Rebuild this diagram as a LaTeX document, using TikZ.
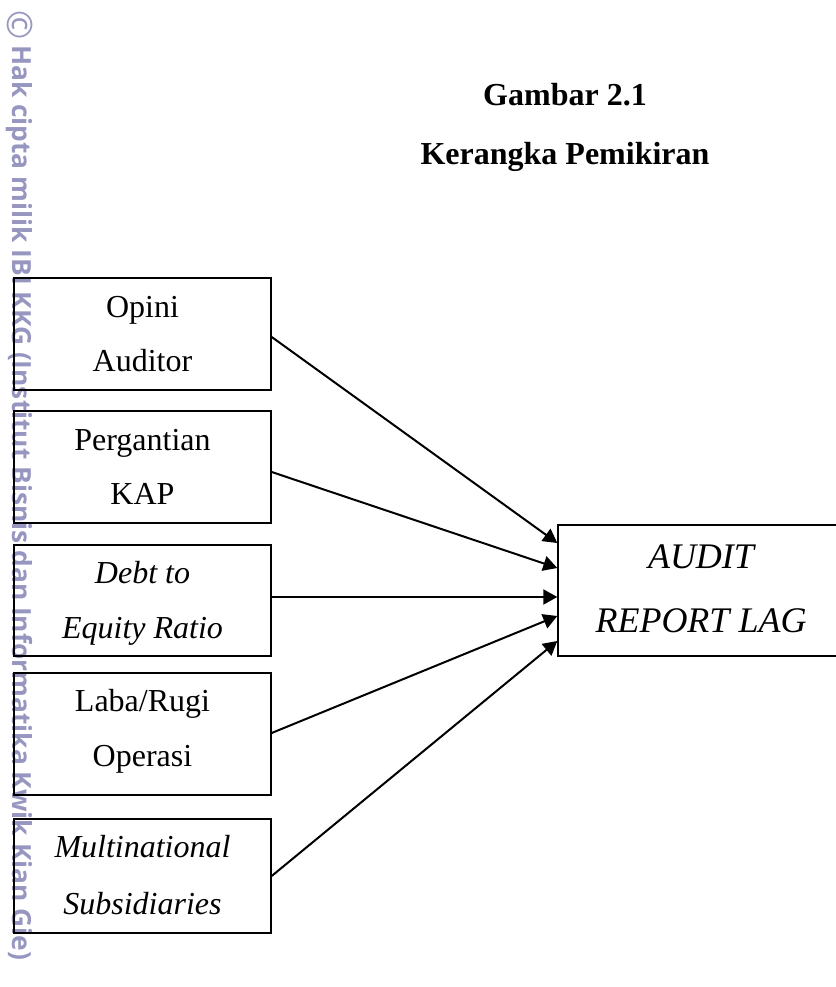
\documentclass[tikz,border=0pt]{standalone}
\usepackage{fontspec}
\setmainfont{Liberation Serif}
\newfontfamily\wmfont{Open Sans}
\usetikzlibrary{arrows.meta,calc}
\definecolor{wmcol}{RGB}{150,150,192}
\begin{document}
\begin{tikzpicture}[x=1pt,y=1pt,
  inbox/.style={draw, line width=1.4pt, minimum width=257pt, inner sep=0pt},
  outbox/.style={draw, line width=1.4pt, minimum width=286pt, minimum height=131pt, inner sep=0pt},
  lbl/.style={anchor=base, font=\fontsize{32}{38}\selectfont, inner sep=0pt},
  ilbl/.style={lbl, font=\fontsize{32}{38}\selectfont\itshape},
  rlbl/.style={anchor=base, font=\fontsize{36}{42}\selectfont\itshape, inner sep=0pt},
  ttl/.style={anchor=base, font=\fontsize{32}{38}\selectfont\bfseries, inner sep=0pt},
  arr/.style={line width=2pt, -{Triangle[length=14pt,width=15pt]}},
]
\useasboundingbox (0,0) rectangle (835,987);
\fill[white] (0,0) rectangle (835,987);

% watermark
\node[rotate=-90, anchor=base west, inner sep=0pt, text=wmcol, font=\wmfont\bfseries] (wm) at (13,942)
  {\resizebox{915pt}{!}{Hak cipta milik IBI KKG (Institut Bisnis dan Informatika Kwik Kian Gie)}};
\node[rotate=-90, inner sep=0pt, text=wmcol, font=\fontsize{35}{35}\selectfont\wmfont] (cr) at (20.5,962) {©};

% title
\node[ttl] (t1) at (565,881) {Gambar 2.1};
\node[ttl] (t2) at (565,822) {Kerangka Pemikiran};

% boxes
\node[inbox, minimum height=112pt] (b1) at (142.5,653) {};
\node[inbox, minimum height=112pt] (b2) at (142.5,520) {};
\node[inbox, minimum height=111pt] (b3) at (142.5,386.5) {};
\node[inbox, minimum height=122pt] (b4) at (142.5,253) {};
\node[inbox, minimum height=114pt] (b5) at (142.5,111) {};
\node[outbox] (r) at (701,396.5) {};

% labels
\node[lbl] (l1a) at (142.5,669) {Opini};
\node[lbl] (l1b) at (142.5,615) {Auditor};
\node[lbl] (l2a) at (142.5,536) {Pergantian};
\node[lbl] (l2b) at (142.5,482) {KAP};
\node[ilbl] (l3a) at (142.5,403) {Debt to};
\node[ilbl] (l3b) at (142.5,348) {Equity Ratio};
\node[lbl] (l4a) at (142.5,275) {Laba/Rugi};
\node[lbl] (l4b) at (142.5,220) {Operasi};
\node[ilbl] (l5a) at (142.5,129) {Multinational};
\node[ilbl] (l5b) at (142.5,72) {Subsidiaries};
\node[rlbl] (ra) at (701,418) {AUDIT};
\node[rlbl] (rb) at (701,354) {REPORT LAG};

% arrows
\draw[arr] ($(b1.east)+(0,-3)$) -- ($(r.west)+(0,47.5)$);
\draw[arr] ($(b2.east)+(0,-5)$) -- ($(r.west)+(0,22.5)$);
\draw[arr] ($(b3.east)+(0,3.5)$) -- ($(r.west)+(0,-6.5)$);
\draw[arr] ($(b4.east)+(0,1)$) -- ($(r.west)+(0,-25.5)$);
\draw[arr] ($(b5.east)+(0,0)$) -- ($(r.west)+(0,-50.5)$);
\end{tikzpicture}
\end{document}
